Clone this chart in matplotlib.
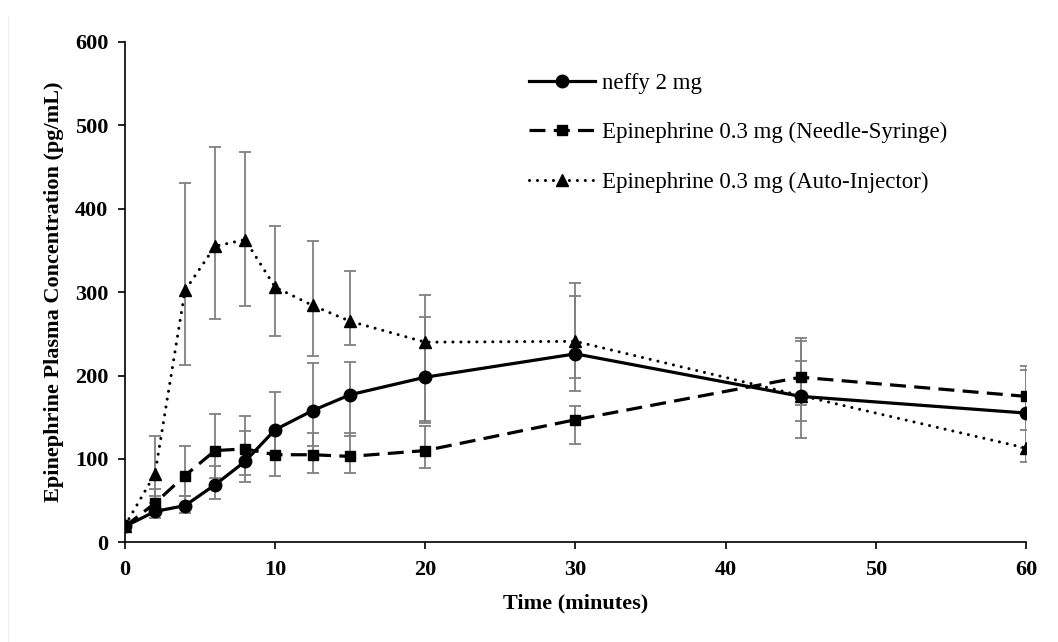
import matplotlib
matplotlib.use("Agg")
import matplotlib.pyplot as plt
from matplotlib.lines import Line2D
import numpy as np

# ---------------- data ----------------
time_min = [0, 2, 4, 6, 8, 10, 12.5, 15, 20, 30, 45, 60]

neffy_mean = [19, 37, 44, 69, 97, 135, 158, 177, 198, 226, 175, 155]
neffy_low = [16, 29, 35, 52, 72, 105, 115, 128, 143, 182, 125, 113]
neffy_high = [22, 47, 56, 92, 133, 180, 215, 216, 270, 295, 218, 207]

ns_mean = [19, 47, 80, 110, 112, 105, 105, 103, 110, 147, 198, 175]
ns_low = [16, 35, 56, 77, 81, 80, 83, 83, 89, 118, 165, 154]
ns_high = [22, 64, 116, 154, 152, 130, 131, 131, 139, 164, 245, 212]

ai_mean = [20, 82, 302, 355, 363, 306, 284, 265, 240, 241, 176, 113]
ai_low = [17, 55, 213, 268, 283, 248, 224, 237, 145, 197, 146, 96]
ai_high = [23, 127, 431, 474, 468, 379, 361, 325, 297, 311, 242, 135]

labels = ["neffy 2 mg",
          "Epinephrine 0.3 mg (Needle-Syringe)",
          "Epinephrine 0.3 mg (Auto-Injector)"]

x_ticks = [0, 10, 20, 30, 40, 50, 60]
y_ticks = [0, 100, 200, 300, 400, 500, 600]

# ---------------- figure ----------------
plt.rcParams['font.family'] = ['Liberation Serif', 'DejaVu Serif']

fig = plt.figure(figsize=(10.58, 6.42), dpi=100)
ax = fig.add_axes([0.1181, 0.1553, 0.8516, 0.7793])

# faint page edge visible in the reference
fig.add_artist(Line2D([7.5 / 1058, 7.5 / 1058], [0.0, 0.975], transform=fig.transFigure,
                      color='#eeeeee', linewidth=0.8))

series = [
    (neffy_mean, neffy_low, neffy_high, dict(linestyle='-', marker='o', markersize=9)),
    (ns_mean, ns_low, ns_high, dict(linestyle=(0, (5.0, 2.6)), marker='s', markersize=7)),
    (ai_mean, ai_low, ai_high, dict(linestyle=(0, (0.01, 2.6)), marker='^', markersize=8,
                                     dash_capstyle='round')),
]

t = np.array(time_min, dtype=float)
for (m, lo, hi, style), lab in zip(series, labels):
    m = np.array(m, float)
    lo = np.array(lo, float)
    hi = np.array(hi, float)
    ax.errorbar(t, m, yerr=[m - lo, hi - m], fmt='none', ecolor='#808080',
                elinewidth=1.3, capsize=4.5, capthick=1.3, zorder=2)

handles = []
for (m, lo, hi, style), lab in zip(series, labels):
    lw = 2.3 if style['marker'] != '^' else 2.2
    h, = ax.plot(t, m, color='black', linewidth=lw, markerfacecolor='black',
                 markeredgecolor='black', label=lab, zorder=3, **style)
    handles.append(h)

ax.set_xlim(0, 60)
ax.set_ylim(0, 600)
ax.set_xticks(x_ticks)
ax.set_yticks(y_ticks)

for s in ['top', 'right']:
    ax.spines[s].set_visible(False)
for s in ['left', 'bottom']:
    ax.spines[s].set_linewidth(1.2)
    ax.spines[s].set_color('black')

ax.tick_params(axis='both', direction='out', length=5, width=1.2,
               labelsize=16, pad=7)
ax.tick_params(axis='x', pad=8)
for lbl in ax.get_xticklabels() + ax.get_yticklabels():
    lbl.set_fontweight('bold')

ax.set_xlabel("Time (minutes)", fontsize=16, fontweight='bold')
ax.set_ylabel("Epinephrine Plasma Concentration (pg/mL)", fontsize=16, fontweight='bold')
ax.xaxis.set_label_coords(0.5, -0.103)
ax.yaxis.set_label_coords(-0.068, 0.5)

leg = ax.legend(handles=handles, loc='upper left',
                bbox_to_anchor=(0.500, 0.887), bbox_transform=fig.transFigure,
                frameon=False, fontsize=16.5, handlelength=2.9, handletextpad=0.3,
                labelspacing=1.25, borderaxespad=0, borderpad=0, numpoints=1)

fig.savefig("out.png", dpi=100, facecolor='white')
